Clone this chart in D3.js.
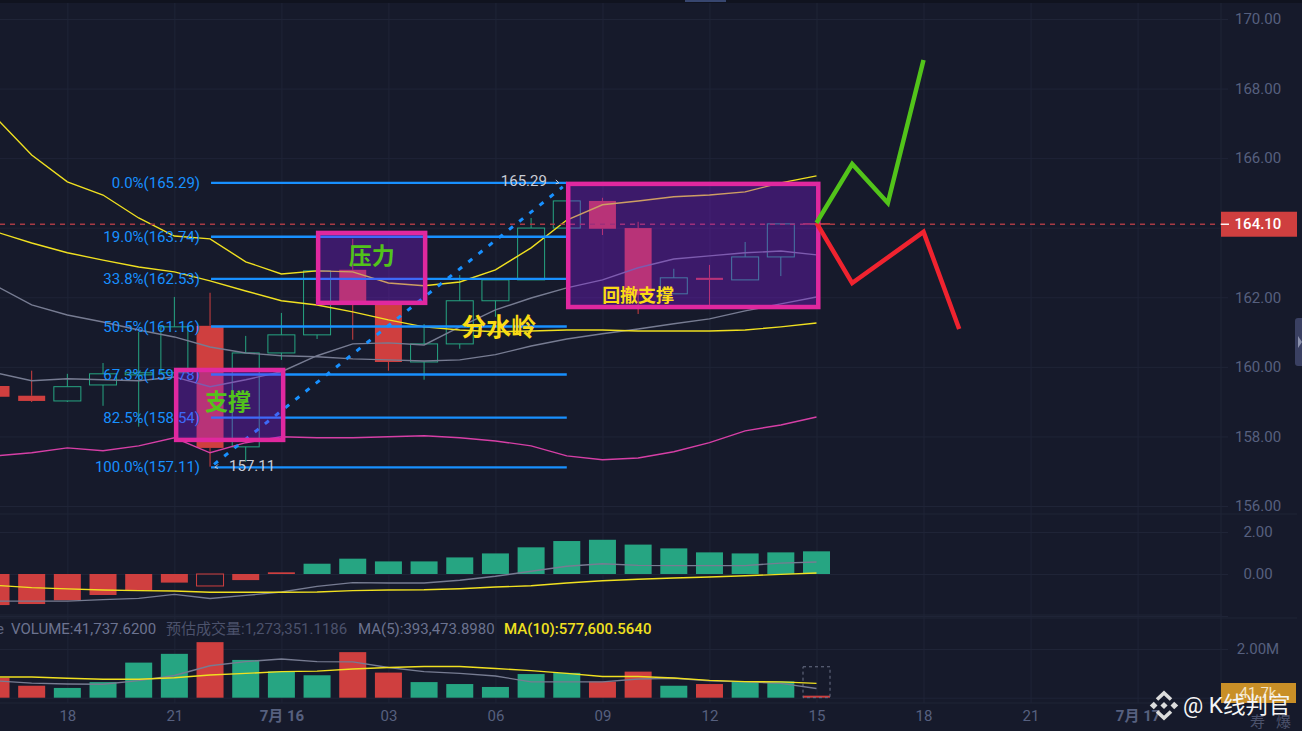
<!DOCTYPE html>
<html>
<head>
<meta charset="utf-8">
<script src="https://cdn.jsdelivr.net/npm/d3@7/dist/d3.min.js"></script>
<style>
html, body { margin: 0; padding: 0; background: #161a2b; overflow: hidden; }
svg { display: block; }
text { font-family: Roboto, "Noto Sans CJK SC", sans-serif; }
.cjk { font-family: "Noto Sans CJK SC", sans-serif; font-weight: 700; }
.grid line { stroke: #1f2437; stroke-width: 1; }
.grid path { display: none; }
.axis-label text { fill: #56607f; font-size: 15px; }
.axis-label path, .axis-label line { display: none; }
</style>
</head>
<body>
<svg id="chart" width="1302" height="731"></svg>
<script>
// hourly bars, 16:00 the day before through 15:00
var candleOpen  = [159.45,159.17,159.02,159.48,159.77,159.83,161.18,157.70,160.40,160.92,162.79,161.87,160.14,160.66,161.90,162.50,163.99,164.77,163.99,162.10,162.56,162.50,163.16,164.13];
var candleClose = [159.14,159.02,159.43,159.80,159.83,161.15,157.67,160.40,160.92,162.76,161.87,160.14,160.66,161.90,162.50,163.99,164.77,163.97,162.07,162.56,162.50,163.16,164.11,164.10];
var candleHigh  = [159.51,159.89,159.80,160.11,161.01,162.01,162.13,160.89,161.55,162.76,163.68,161.87,161.23,162.64,162.50,164.28,165.29,164.86,164.17,162.82,162.93,163.59,164.11,164.13];
var candleLow   = [159.14,158.99,158.99,158.88,158.28,159.77,157.13,157.27,160.20,160.80,160.78,159.89,159.63,160.52,161.44,162.50,163.99,163.79,161.52,162.10,161.78,162.50,162.61,164.10];

var maYellowFast = [167.16,166.09,165.32,164.94,164.28,163.76,163.68,163.02,162.67,162.76,162.73,162.41,162.33,162.44,162.79,163.42,164.22,164.66,164.77,164.89,164.94,165.03,165.29,165.49];
var maYellowSlow = [163.88,163.56,163.28,163.07,162.87,162.73,162.47,162.18,161.90,161.78,161.58,161.35,161.15,161.06,161.01,161.03,161.06,161.06,161.03,161.03,161.03,161.06,161.15,161.26];
var maGraySlow   = [162.33,161.78,161.49,161.29,161.06,160.86,160.57,160.40,160.32,160.29,160.23,160.20,160.17,160.20,160.35,160.60,160.80,160.95,161.09,161.24,161.38,161.61,161.81,162.01];
var maGrayFast   = [159.83,159.60,159.66,159.63,159.60,159.71,159.43,159.63,159.86,160.32,160.66,160.69,160.63,161.15,161.64,161.98,162.27,162.50,162.85,163.10,163.19,163.28,163.33,163.22];
var bandPink     = [157.44,157.53,157.67,157.59,157.73,157.96,157.53,157.82,157.99,157.96,157.96,157.99,158.02,157.96,157.87,157.73,157.44,157.33,157.38,157.56,157.82,158.16,158.33,158.56];

var macdHist = [-1.48,-1.43,-1.25,-1.00,-0.78,-0.41,-0.57,-0.29,0.08,0.49,0.73,0.60,0.60,0.79,0.98,1.27,1.57,1.63,1.40,1.22,1.03,0.98,1.03,1.08];
var macdDif  = [-1.29,-1.29,-1.29,-1.22,-1.16,-0.97,-1.17,-1.02,-0.86,-0.59,-0.41,-0.43,-0.43,-0.30,-0.11,0.13,0.37,0.49,0.41,0.40,0.40,0.40,0.52,0.57];
var macdDea  = [-0.54,-0.65,-0.71,-0.76,-0.79,-0.81,-0.87,-0.87,-0.87,-0.86,-0.79,-0.76,-0.75,-0.70,-0.62,-0.56,-0.43,-0.32,-0.25,-0.19,-0.14,-0.08,-0.02,0.05];

var volume    = [0.77,0.45,0.36,0.60,1.40,1.76,2.24,1.51,1.04,0.88,1.83,0.99,0.60,0.52,0.40,0.93,0.98,0.62,1.03,0.45,0.52,0.63,0.63,0.0417];
var volumeUp  = [0,0,1,1,1,1,0,1,1,1,0,0,1,1,1,1,1,0,0,1,0,1,1,0];
var volumeMa5 = [0.69,0.60,0.56,0.55,0.70,0.91,1.31,1.48,1.59,1.48,1.47,1.24,1.07,1.00,0.89,0.65,0.65,0.65,0.77,0.80,0.69,0.65,0.59,0.38];
var volumeMa10 = [0.85,0.85,0.80,0.76,0.76,0.82,0.93,1.00,1.07,1.09,1.18,1.24,1.28,1.28,1.20,1.11,1.00,0.87,0.87,0.81,0.71,0.66,0.65,0.59];
var volumeEstimate = 1.27;

var timeTicks = [2,5,8,11,14,17,20,23,26,29,32];
var timeLabels = ["18","21","7月 16","03","06","09","12","15","18","21","7月 17"];
var priceTicks = [170,168,166,164,162,160,158,156];
var priceTickLabels = ["170.00","168.00","166.00","","162.00","160.00","158.00","156.00"];
var lastPrice = 164.10;

var fibLabels = ["0.0%","19.0%","33.8%","50.5%","67.3%","82.5%","100.0%"];
var fibPrices = [165.29,163.74,162.53,161.16,159.78,158.54,157.11];

var boxLeft   = [5.05,9.03,16.04];
var boxRight  = [8.05,12.03,23.05];
var boxTop    = [159.91,163.85,165.26];
var boxBottom = [157.90,161.84,161.72];

var greenPathBars = [23,24,25,26];
var greenPathPrices = [164.14,165.83,164.71,168.82];
var redPathBars = [23,24,26,27];
var redPathPrices = [164.14,162.41,163.88,161.09];

var GREEN = "#26a582", RED = "#cf3f3f", YELLOW = "#f0e020", GRAY = "#777c92", BLUE = "#1890ff";
var AXIS_X = 1221, GRID_END = 1228;

var svg = d3.select("#chart");
var x = d3.scaleLinear().domain([0,23]).range([-4,816.5]);
var yPrice = d3.scaleLinear().domain([170,156]).range([19,506]);
var yMacd = d3.scaleLinear().domain([2,0]).range([532,574]);
var yVol = d3.scaleLinear().domain([0,2]).range([697.7,649]);
var bars = d3.range(24);
var BAR_W = 27;

// top strip
svg.append("rect").attr("width",1302).attr("height",3).attr("fill","#10131f");
svg.append("rect").attr("x",685).attr("width",41).attr("height",2).attr("fill","#37466f");

// grid
svg.append("g").attr("class","grid").attr("transform","translate(0,703)")
    .call(d3.axisBottom(x).tickValues(timeTicks).tickSize(-700).tickFormat(""));
svg.append("g").attr("class","grid").attr("transform","translate("+GRID_END+",0)")
    .call(d3.axisLeft(yPrice).tickValues(priceTicks).tickSize(GRID_END).tickFormat(""));
svg.append("g").attr("class","grid").attr("transform","translate("+GRID_END+",0)")
    .call(d3.axisLeft(yMacd).tickValues([2,0,-2]).tickSize(GRID_END).tickFormat(""));
svg.append("g").attr("class","grid").attr("transform","translate("+GRID_END+",0)")
    .call(d3.axisLeft(yVol).tickValues([2,0]).tickSize(GRID_END).tickFormat(""));
[[514,1297],[615,1222],[618,1297],[703,1222]].forEach(function (s) {
    svg.append("line").attr("x1",0).attr("x2",s[1]).attr("y1",s[0]).attr("y2",s[0])
        .attr("stroke","#1f2437");
});
svg.append("line").attr("x1",AXIS_X).attr("x2",AXIS_X).attr("y1",3).attr("y2",703).attr("stroke","#1f2437");

// candles
var candle = svg.append("g").selectAll("g").data(bars).enter().append("g")
    .attr("transform", function (i) { return "translate("+x(i)+",0)"; });
candle.each(function (i) {
    var g = d3.select(this);
    var up = candleClose[i] >= candleOpen[i];
    var color = up ? GREEN : RED;
    var top = yPrice(Math.max(candleOpen[i],candleClose[i]));
    var bottom = yPrice(Math.min(candleOpen[i],candleClose[i]));
    if (yPrice(candleHigh[i]) < top)
        g.append("line").attr("y1",yPrice(candleHigh[i])).attr("y2",top).attr("stroke",color);
    if (yPrice(candleLow[i]) > bottom)
        g.append("line").attr("y1",bottom).attr("y2",yPrice(candleLow[i])).attr("stroke",color);
    g.append("rect").attr("x",-BAR_W/2).attr("width",BAR_W).attr("y",top)
        .attr("height",Math.max(bottom-top,1.5))
        .attr("fill",up ? "none" : RED)
        .attr("stroke",up ? GREEN : "none");
});

// moving averages
function drawLine(values, scale, color, width) {
    svg.append("path").datum(values)
        .attr("fill","none").attr("stroke",color).attr("stroke-width",width)
        .attr("d", d3.line().x(function (d,i) { return x(i); }).y(function (d) { return scale(d); }));
}
drawLine(maGraySlow, yPrice, GRAY, 1.4);
drawLine(maGrayFast, yPrice, GRAY, 1.4);
drawLine(maYellowSlow, yPrice, YELLOW, 1.4);
drawLine(maYellowFast, yPrice, YELLOW, 1.4);
drawLine(bandPink, yPrice, "#d63fa6", 1.4);

// last price line
svg.append("line").attr("x1",0).attr("x2",AXIS_X).attr("y1",yPrice(lastPrice)).attr("y2",yPrice(lastPrice))
    .attr("stroke","#a83a44").attr("stroke-width",1.4).attr("stroke-dasharray","5 5");

// fibonacci
var fibStart = x(6)+1, fibEnd = x(16);
svg.append("g").selectAll("line").data(fibPrices).enter().append("line")
    .attr("x1",fibStart).attr("x2",fibEnd)
    .attr("y1",function (d) { return yPrice(d); }).attr("y2",function (d) { return yPrice(d); })
    .attr("stroke",BLUE).attr("stroke-width",2.4);
svg.append("g").selectAll("text").data(fibPrices).enter().append("text")
    .attr("x",fibStart-11).attr("y",function (d) { return yPrice(d)+5; })
    .attr("text-anchor","end").attr("fill",BLUE).attr("font-size",15)
    .text(function (d,i) { return fibLabels[i]+"("+d.toFixed(2)+")"; });
svg.append("line")
    .attr("x1",x(6)+4).attr("y1",yPrice(fibPrices[6])-3).attr("x2",x(16)-4).attr("y2",yPrice(fibPrices[0])+4)
    .attr("stroke",BLUE).attr("stroke-width",3).attr("stroke-dasharray","5 8");
svg.append("text").attr("x",x(6)+19).attr("y",yPrice(fibPrices[6])+4)
    .attr("fill","#c9ccd6").attr("font-size",15).text(fibPrices[6].toFixed(2));
svg.append("text").attr("x",x(16)-66).attr("y",yPrice(fibPrices[0])+3)
    .attr("fill","#c9ccd6").attr("font-size",15).text(fibPrices[0].toFixed(2));
// small end arrows on the trend line
svg.append("path").attr("fill","none").attr("stroke","#c9ccd6")
    .attr("d", d3.line()([[x(16)-11,yPrice(fibPrices[0])-3],[x(16)-8,yPrice(fibPrices[0])],[x(16)-11,yPrice(fibPrices[0])+1]]));
svg.append("path").attr("fill","none").attr("stroke","#c9ccd6")
    .attr("d", d3.line()([[x(6)+8,yPrice(fibPrices[6])-3],[x(6)+5,yPrice(fibPrices[6])],[x(6)+8,yPrice(fibPrices[6])+1]]));

// boxes
svg.append("g").selectAll("rect").data(boxLeft).enter().append("rect")
    .attr("x",function (d) { return x(d); })
    .attr("width",function (d,i) { return x(boxRight[i])-x(d); })
    .attr("y",function (d,i) { return yPrice(boxTop[i]); })
    .attr("height",function (d,i) { return yPrice(boxBottom[i])-yPrice(boxTop[i]); })
    .attr("fill","#8a1aea").attr("fill-opacity",0.335)
    .attr("stroke","#e0289f").attr("stroke-width",4.5);

// forecast paths
function drawPath(idx, prices, color) {
    svg.append("path").datum(prices).attr("fill","none").attr("stroke",color).attr("stroke-width",4.5)
        .attr("d", d3.line().x(function (d,i) { return x(idx[i]); }).y(function (d) { return yPrice(d); }));
}
drawPath(redPathBars, redPathPrices, "#f0232f");
drawPath(greenPathBars, greenPathPrices, "#52c41a");

// annotations
function note(txt, cx, price, size, color) {
    svg.append("text").attr("class","cjk").attr("x",x(cx)).attr("y",yPrice(price))
        .attr("text-anchor","middle").attr("font-size",size).attr("fill",color).text(txt);
}
note("支撑", 6.5, 158.75, 23, "#52c41a");
note("压力", 10.53, 162.96, 23, "#52c41a");
note("分水岭", 14.09, 160.90, 25, "#fadb14");
note("回撤支撑", 18.0, 161.87, 18, "#fadb14");

// macd pane
svg.append("g").selectAll("rect").data(macdHist).enter().append("rect")
    .attr("x",function (d,i) { return x(i)-BAR_W/2; }).attr("width",BAR_W)
    .attr("y",function (d) { return Math.min(yMacd(d),yMacd(0)); })
    .attr("height",function (d) { return Math.abs(yMacd(d)-yMacd(0)); })
    .attr("fill",function (d,i) { return i==6 ? "none" : (d>=0 && i!=8 ? GREEN : RED); })
    .attr("stroke",function (d,i) { return i==6 ? RED : "none"; });
drawLine(macdDif, yMacd, GRAY, 1.4);
drawLine(macdDea, yMacd, YELLOW, 1.4);

// volume pane
svg.append("g").selectAll("rect").data(volume).enter().append("rect")
    .attr("x",function (d,i) { return x(i)-BAR_W/2; }).attr("width",BAR_W)
    .attr("y",function (d) { return yVol(d)-1; })
    .attr("height",function (d) { return yVol(0)-yVol(d)+1; })
    .attr("fill",function (d,i) { return volumeUp[i] ? GREEN : RED; });
svg.append("rect").attr("x",x(23)-BAR_W/2).attr("width",BAR_W)
    .attr("y",yVol(volumeEstimate)).attr("height",yVol(0)-yVol(volumeEstimate))
    .attr("fill","none").attr("stroke","#6b7087").attr("stroke-dasharray","3 3");
drawLine(volumeMa5, yVol, GRAY, 1.4);
drawLine(volumeMa10, yVol, YELLOW, 1.4);

// volume legend
var legendY = 634;
svg.append("text").attr("x",-4).attr("y",legendY).attr("font-size",15).attr("fill","#5e6580").text("e");
svg.append("text").attr("x",11).attr("y",legendY).attr("font-size",15).attr("fill","#6c7390").text("VOLUME:41,737.6200");
svg.append("text").attr("x",166).attr("y",legendY).attr("font-size",15).attr("fill","#4c526c").text("预估成交量:1,273,351.1186");
svg.append("text").attr("x",358).attr("y",legendY).attr("font-size",15).attr("fill","#6c7390").text("MA(5):393,473.8980");
svg.append("text").attr("x",504).attr("y",legendY).attr("font-size",15).attr("font-weight",500).attr("fill",YELLOW).text("MA(10):577,600.5640");

// axes labels
var timeAxis = svg.append("g").attr("class","axis-label").attr("transform","translate(0,703)")
    .call(d3.axisBottom(x).tickValues(timeTicks).tickSize(0).tickPadding(7)
        .tickFormat(function (d,i) { return timeLabels[i]; }));
timeAxis.selectAll("text").attr("font-weight",function (d,i) { return timeLabels[i].length>2 ? 700 : 400; })
    .attr("text-anchor","middle");
svg.append("g").attr("class","axis-label").attr("transform","translate(1258,0)")
    .call(d3.axisRight(yPrice).tickValues(priceTicks).tickSize(0).tickPadding(0)
        .tickFormat(function (d,i) { return priceTickLabels[i]; }))
    .selectAll("text").attr("text-anchor","middle");
svg.append("g").attr("class","axis-label").attr("transform","translate(1258,0)")
    .call(d3.axisRight(yMacd).tickValues([2,0]).tickSize(0).tickPadding(0).tickFormat(d3.format(".2f")))
    .selectAll("text").attr("text-anchor","middle");
svg.append("g").attr("class","axis-label").attr("transform","translate(1258,0)")
    .call(d3.axisRight(yVol).tickValues([2]).tickSize(0).tickPadding(0).tickFormat(function (d) { return d.toFixed(2)+"M"; }))
    .selectAll("text").attr("text-anchor","middle");

// last price tag
svg.append("rect").attr("x",AXIS_X).attr("y",yPrice(lastPrice)-12.5).attr("width",76).attr("height",25).attr("fill",RED);
svg.append("line").attr("x1",AXIS_X).attr("x2",1229).attr("y1",yPrice(lastPrice)).attr("y2",yPrice(lastPrice))
    .attr("stroke","#fff").attr("stroke-width",1.4);
svg.append("text").attr("x",1258).attr("y",yPrice(lastPrice)+5).attr("text-anchor","middle")
    .attr("font-size",15).attr("font-weight",500).attr("fill","#fff").text(lastPrice.toFixed(2));

// volume tag
svg.append("rect").attr("x",AXIS_X).attr("y",683).attr("width",75).attr("height",20).attr("fill","#c98f27");
svg.append("text").attr("x",1258).attr("y",698).attr("text-anchor","middle")
    .attr("font-size",15).attr("fill","#f4e3c2").text("41.7k");

// right edge handle
svg.append("rect").attr("x",1295).attr("y",318).attr("width",12).attr("height",48).attr("rx",3).attr("fill","#3a4062");
svg.append("path").attr("d","M1298 336L1302 342L1298 348Z").attr("fill","#8c92ad");

// watermark
var mark = svg.append("g").attr("transform","translate(1164,705.5)")
    .attr("fill","none").attr("stroke","#dcdcdc").attr("stroke-width",3.6);
mark.append("path").attr("d","M-7 -6L0 -12.5L7 -6");
mark.append("path").attr("d","M-7 6L0 12.5L7 6");
mark.append("path").attr("d","M-11.5 0L-8 -3.2L-4.8 0L-8 3.2Z").attr("stroke","none").attr("fill","#dcdcdc").attr("transform","translate(-1,0) scale(1.15)");
mark.append("path").attr("d","M11.5 0L8 -3.2L4.8 0L8 3.2Z").attr("stroke","none").attr("fill","#dcdcdc").attr("transform","translate(1,0) scale(1.15)");
mark.append("path").attr("d","M0 -3.6L3.6 0L0 3.6L-3.6 0Z").attr("stroke","none").attr("fill","#dcdcdc");
svg.append("text").attr("x",1183).attr("y",713).attr("font-size",22.5).attr("fill","#f5f5f5").text("@ K线判官");
svg.append("text").attr("x",1250).attr("y",727).attr("font-size",15).attr("fill","#4c526c").text("寿");
svg.append("text").attr("x",1276).attr("y",727).attr("font-size",15).attr("fill","#4c526c").text("爆");
</script>
</body>
</html>
